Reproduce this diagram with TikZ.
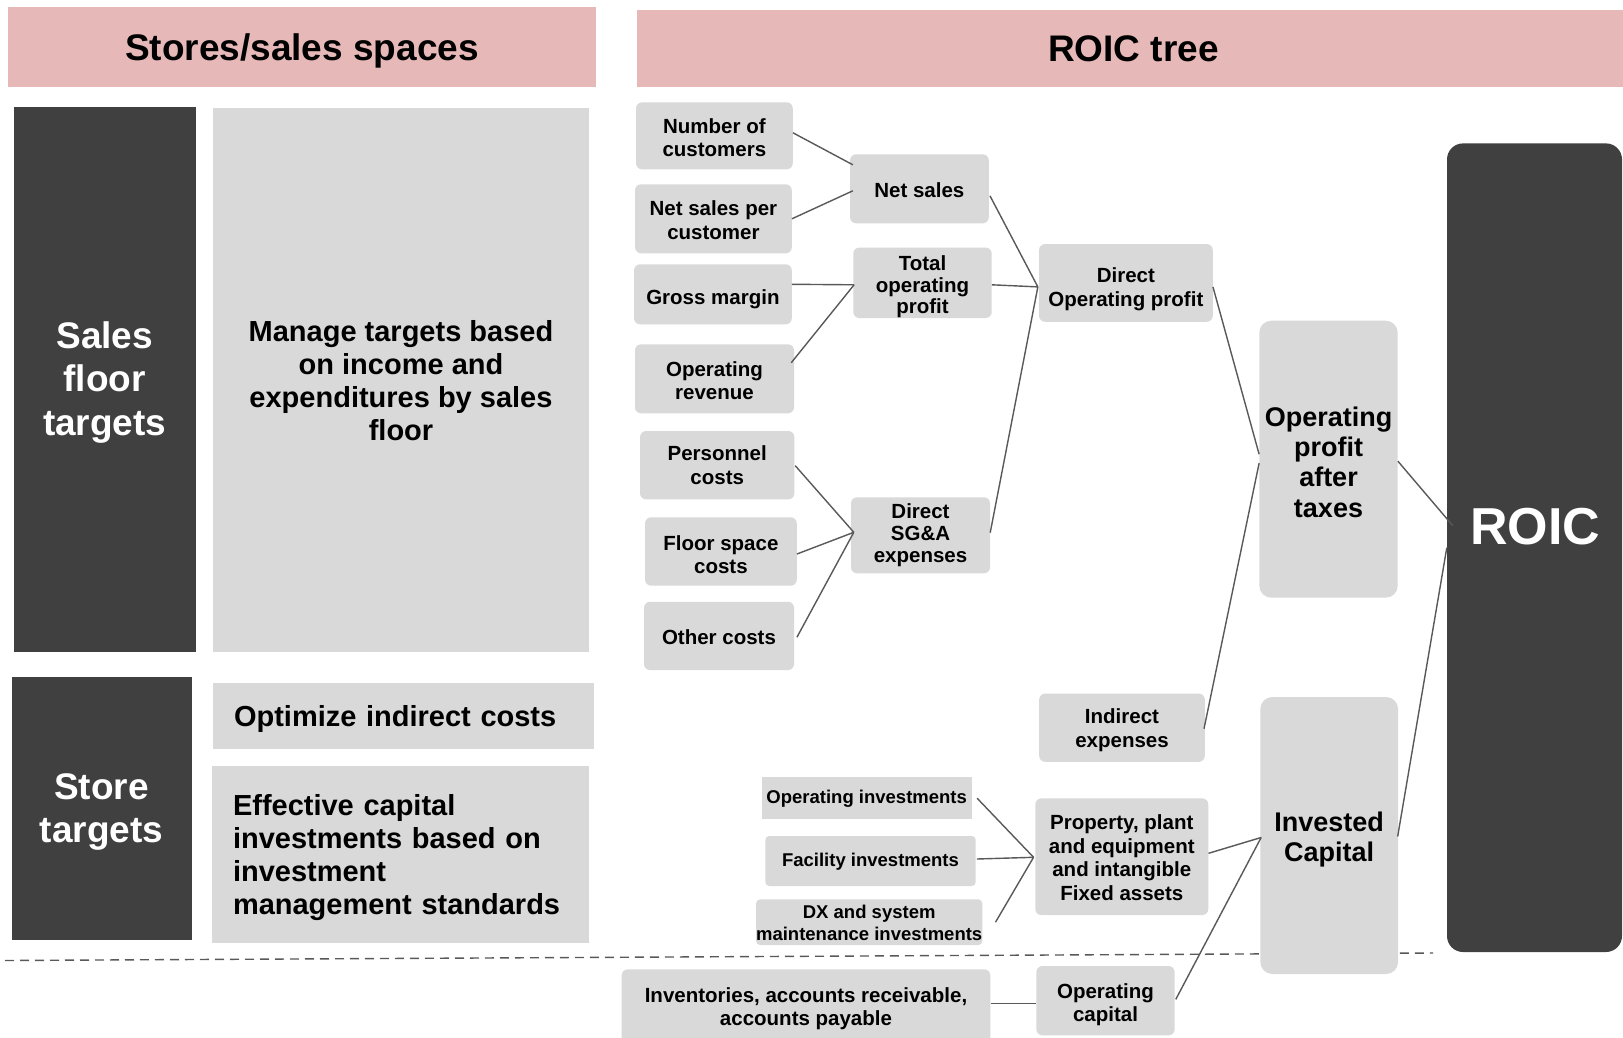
\documentclass[tikz,border=0pt]{standalone}
\usepackage{fontspec}
\setmainfont{Liberation Sans}
\usetikzlibrary{calc}

\definecolor{hdrpink}{HTML}{E6B8B7}
\definecolor{boxgray}{HTML}{D9D9D9}
\definecolor{darkbox}{HTML}{404040}
\definecolor{linkgray}{HTML}{595959}

\newcommand{\fsz}[2]{\fontsize{#1}{#2}\selectfont\bfseries}
% strut on the first line that lowers a node's text by #1 pt
\newcommand{\dn}[1]{\rule{0pt}{\dimexpr 0.72em+#1pt+#1pt\relax}}

\tikzset{
  base/.style={inner sep=0pt, align=center},
  sz/.style 2 args={minimum width=#1pt, minimum height=#2pt},
  header/.style={base, fill=hdrpink, font=\fsz{37}{43}},
  lbox/.style={base, fill=boxgray},
  dbox/.style={base, fill=darkbox, text=white},
  tbox/.style={base, fill=boxgray, rounded corners=6pt, font=\fsz{20.5}{23.5}},
  tight/.style={font=\fsz{20.5}{21.7}},
  big/.style={base, fill=boxgray, rounded corners=12pt, font=\fsz{27}{30.3}},
  inv/.style={base, fill=boxgray, font=\fsz{18.5}{21.7}},
  link/.style={draw=linkgray, line width=1.4pt},
  divider/.style={draw=linkgray, line width=1.4pt, dash pattern=on 9pt off 6pt},
}

\begin{document}
\begin{tikzpicture}[x=1pt,y=-1pt]
\useasboundingbox (0,0) rectangle (1623,1038);
\clip (0,0) rectangle (1623,1038);
\fill[white] (0,0) rectangle (1623,1038);

% divider between store level and balance-sheet level
\coordinate (dl) at (5,960.5);
\coordinate (dr) at (1433,953);
\draw[divider] (dl) -- (dr);

% column headers
\node[header, sz={588}{80}] (hL) at (302,47) {\dn{4}Stores/sales spaces};
\node[header, sz={993}{77}] (hR) at (1133.5,48.5) {ROIC tree};

% left column
\node[dbox, sz={182.5}{545}, font=\fsz{37}{43.5}] (dk1) at (104.75,379.5) {\dn{3}Sales\\floor\\targets};
\node[lbox, sz={376}{544}, font=\fsz{29}{33}] (lt1) at (401,380) {\dn{1}Manage targets based\\on income and\\expenditures by sales\\floor};
\node[dbox, sz={180}{263}, font=\fsz{37}{43.5}] (dk2) at (101.5,808.5) {\dn{3}Store\\targets};
\node[lbox, sz={381}{66.4}, font=\fsz{29}{33}, align=left, text width=339pt, inner xsep=21pt] (opt) at (403.5,716.2) {\dn{3}Optimize indirect costs};
\node[lbox, sz={377}{177}, font=\fsz{29}{33}, align=left, text width=335pt, inner xsep=21pt] (eff) at (400.5,854.5) {\dn{3.5}Effective capital\\investments based on\\investment\\management standards};

% ROIC tree: operating side
\node[tbox, sz={156.7}{67}] (ncu) at (714.4,135.8) {\dn{2}Number of\\customers};
\node[tbox, sz={156.7}{69}] (nspc) at (713.4,218.8) {\dn{1.5}Net sales per\\customer};
\node[tbox, sz={157.7}{60}] (gm) at (712.9,294.3) {\dn{5}Gross margin};
\node[tbox, sz={159}{69}] (orev) at (714.5,378.8) {\dn{2}Operating\\revenue};
\node[tbox, sz={138.7}{69}] (ns) at (919.4,188.8) {\dn{1}Net sales};
\node[tbox, tight, sz={138.4}{69}] (top) at (922.5,282.8) {\dn{4}Total\\operating\\profit};
\node[tbox, sz={154.3}{68.3}] (pers) at (717.2,465.2) {Personnel\\costs};
\node[tbox, sz={151.7}{68.4}] (flr) at (720.9,551.5) {\dn{3}Floor space\\costs};
\node[tbox, sz={150}{68.3}] (oth) at (719,635.9) {\dn{1}Other costs};
\node[tbox, tight, sz={139}{76}] (sga) at (920.5,535.3) {Direct\\SG\&A\\expenses};
\node[tbox, sz={173.7}{77.7}] (dop) at (1125.9,282.9) {\dn{6.5}Direct\\Operating profit};
\node[tbox, sz={165.6}{68.3}] (ind) at (1122,727.7) {\dn{2.5}Indirect\\expenses};
\node[big, sz={138.4}{277}] (opat) at (1328.5,459.2) {\dn{3}Operating\\profit\\after\\taxes};

% ROIC tree: capital side
\node[inv, sz={210.4}{41.7}] (opi) at (866.7,798.2) {\dn{1}Operating investments};
\node[inv, rounded corners=4pt, sz={210.4}{50}] (fac) at (870.5,861) {\dn{1}Facility investments};
\node[inv, rounded corners=4pt, sz={207.7}{45.7}] (dx) at (869.2,922.2) {\dn{1}DX and system\\maintenance investments};
\node[tbox, sz={172.9}{116.7}] (ppe) at (1121.8,856.7) {\dn{1}Property, plant\\and equipment\\and intangible\\Fixed assets};
\node[tbox, sz={138.2}{69.3}] (opc) at (1105.5,1000.7) {\dn{4}Operating\\capital};
\node[tbox, sz={368.6}{74.7}] (inv) at (806,1006.7) {\dn{2}Inventories, accounts receivable,\\accounts payable};
\node[big, sz={137.7}{277}] (ic) at (1329.2,835.5) {\dn{4}Invested\\Capital};

% result
\node[base, fill=darkbox, rounded corners=16pt, sz={175}{808.6}] (roic) at (1534.5,547.7) {};
\node[text=white, font=\fsz{52}{60}, inner sep=0pt] (roict) at (1535,527) {ROIC};

% connectors
\draw[link] ($(ncu.east)+(0,-3)$) -- ($(ns.west)+(3,-24)$);
\draw[link] (nspc.east) -- ($(ns.west)+(3,2)$);
\draw[link] ($(gm.east)+(0,-10)$) -- ($(top.west)+(1,2)$);
\draw[link] ($(orev.east)+(-3,-16)$) -- ($(top.west)+(1,2)$);
\draw[link] ($(ns.east)+(1,7)$) -- ($(dop.west)+(-1,4)$);
\draw[link] ($(top.east)+(0,2)$) -- ($(dop.west)+(-1,4)$);
\draw[link] ($(sga.east)+(0,-2.6)$) -- ($(dop.west)+(-1,4)$);
\draw[link] ($(pers.east)+(0.7,0.5)$) -- ($(sga.west)+(3,-3)$);
\draw[link] ($(flr.east)+(0,2.5)$) -- ($(sga.west)+(3,-3)$);
\draw[link] ($(oth.east)+(2.7,1.4)$) -- ($(sga.west)+(3,-3)$);
\draw[link] ($(dop.east)+(0,4)$) -- ($(opat.west)+(0,-5)$);
\draw[link] ($(ind.east)+(-1,1)$) -- ($(opat.west)+(0,4)$);
\draw[link] ($(opat.east)+(0,2)$) -- ($(roic.west)+(6,-22)$);
\draw[link] ($(ic.east)+(-0.6,1)$) -- (roic.west);
\draw[link] ($(opi.east)+(5,0)$) -- ($(ppe.west)+(-1.6,0.6)$);
\draw[link] ($(fac.east)+(1,-2)$) -- ($(ppe.west)+(-1.6,0.6)$);
\draw[link] ($(dx.east)+(13,0)$) -- ($(ppe.west)+(-1.6,0.6)$);
\draw[link] ($(ppe.east)+(0,-3.4)$) -- ($(ic.west)+(1,2)$);
\draw[link] ($(opc.east)+(1,-1.4)$) -- ($(ic.west)+(1,2)$);
\draw[link] ($(inv.east)+(0,-3.4)$) -- ($(opc.west)+(0,2.6)$);
\end{tikzpicture}
\end{document}
